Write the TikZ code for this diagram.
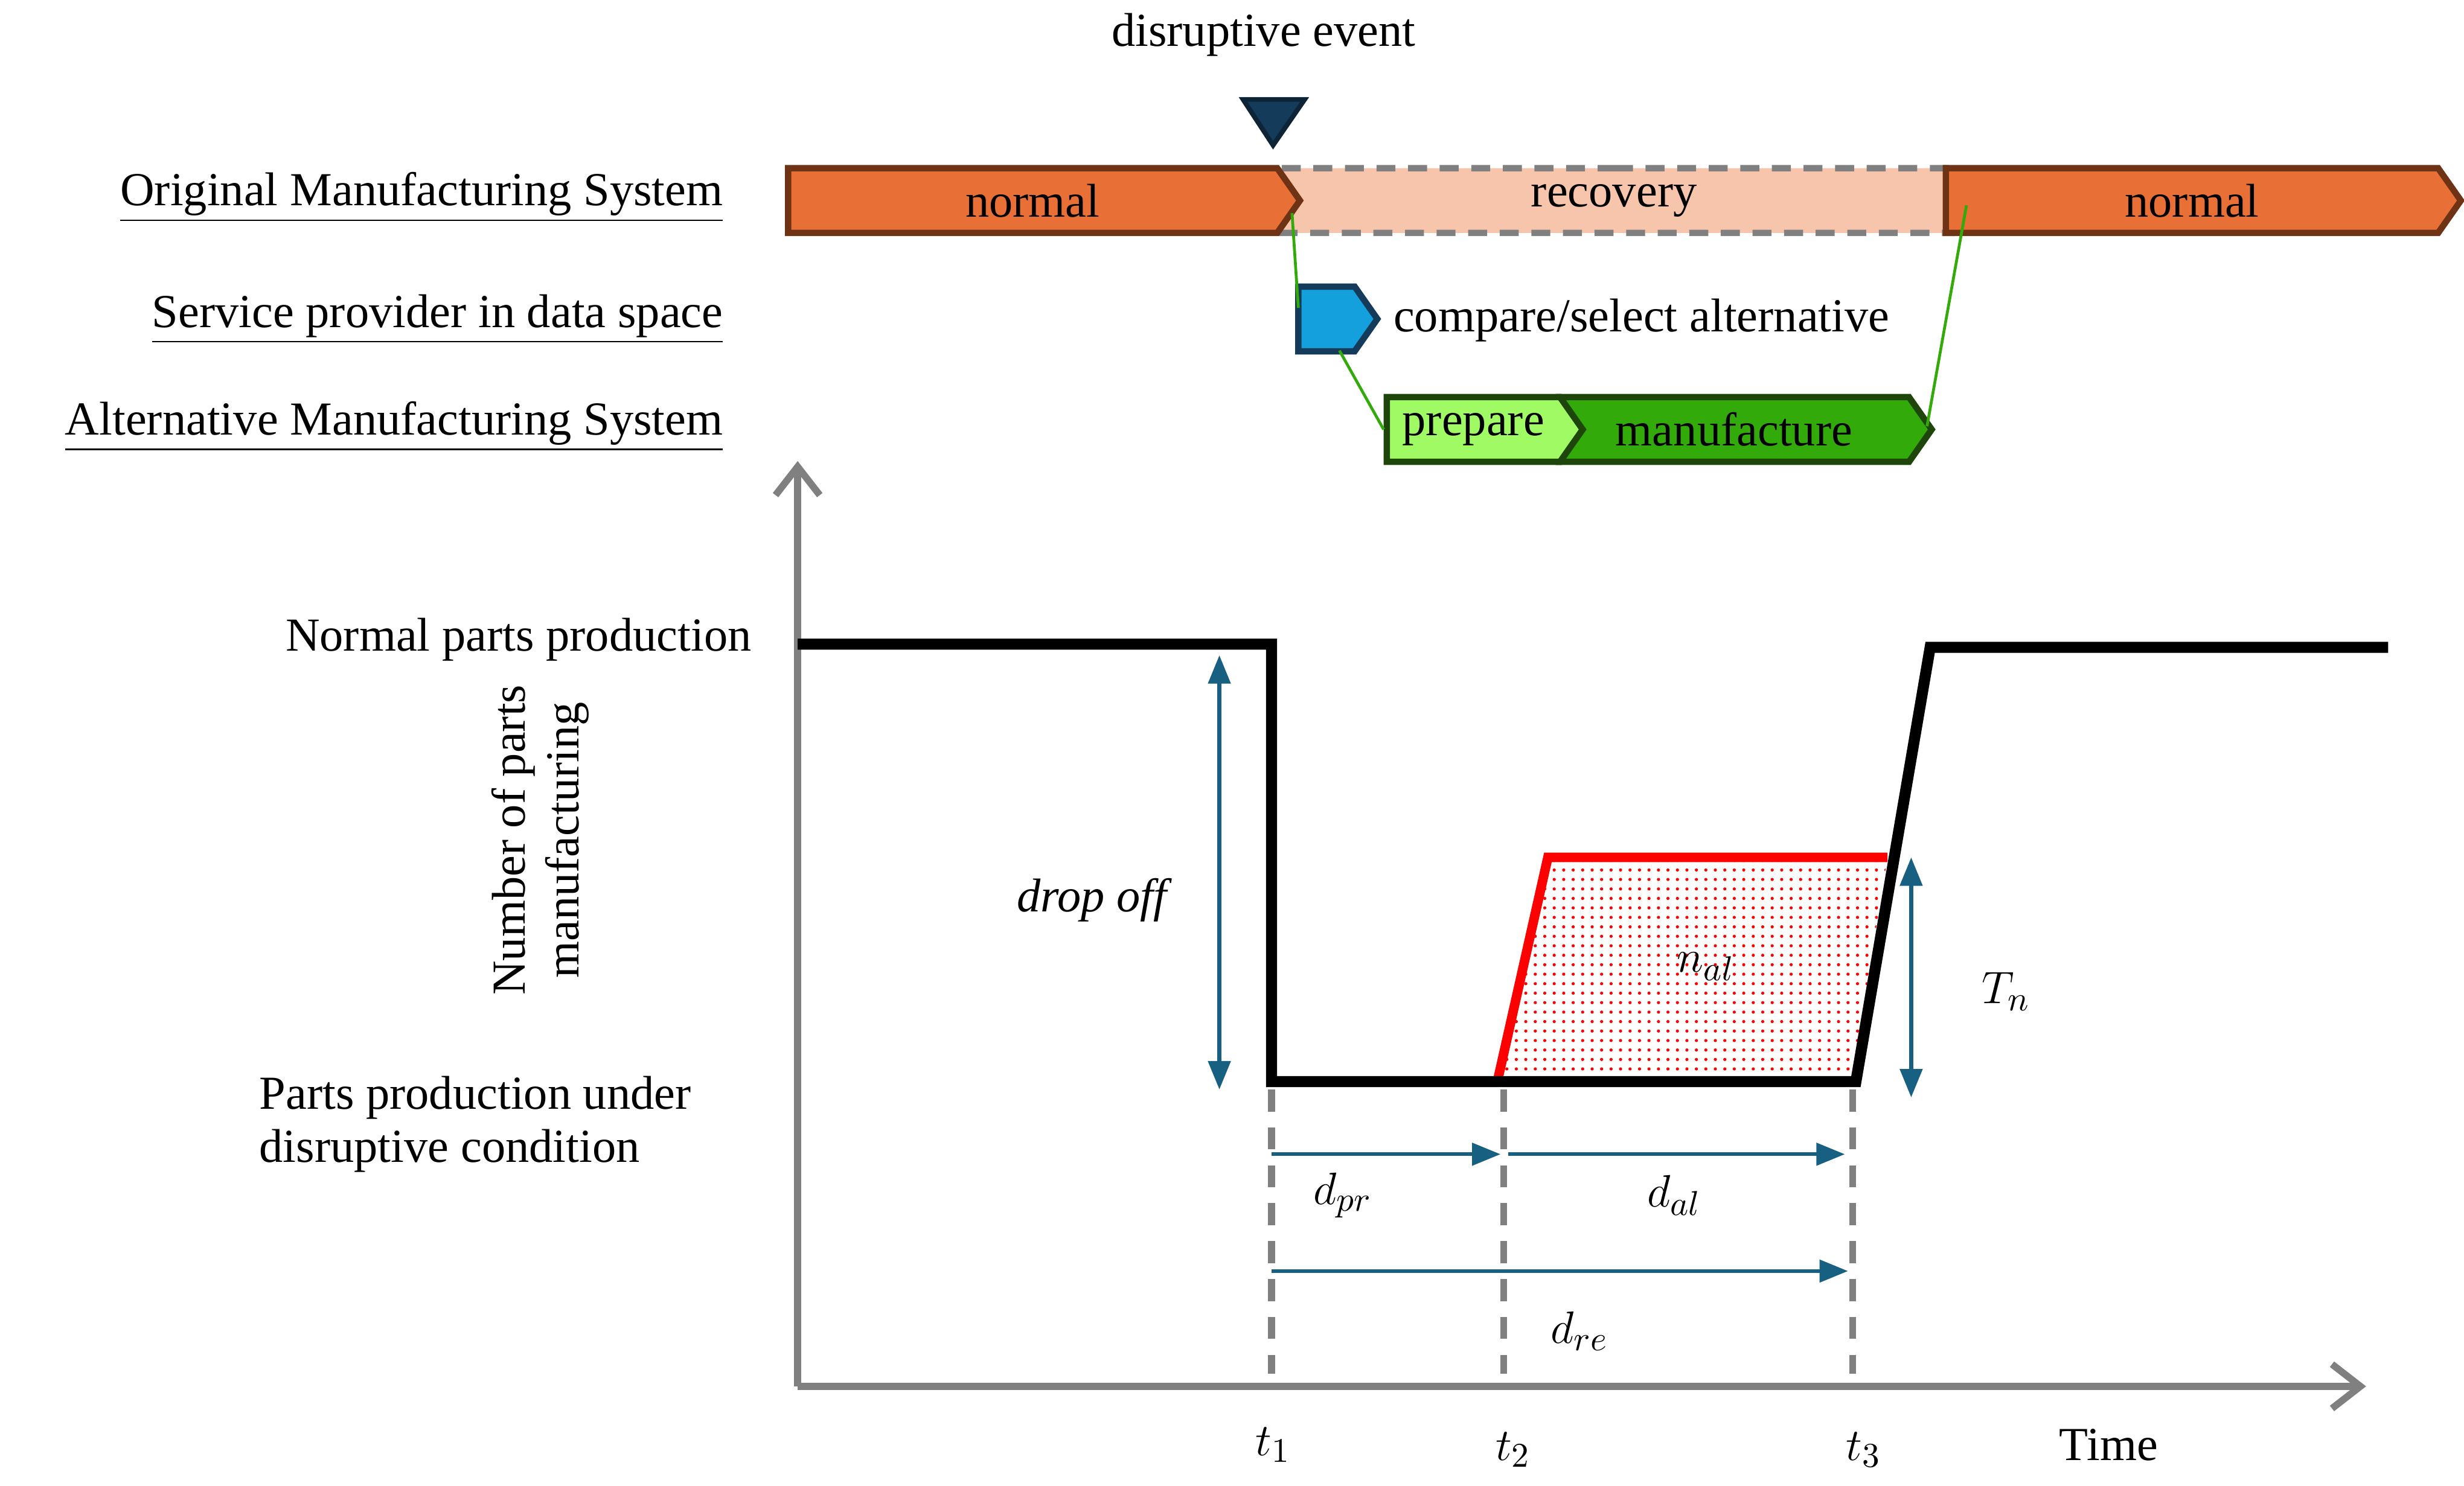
\documentclass[tikz,border=0pt]{standalone}
\usepackage{fontspec}
\setmainfont{Liberation Serif}
\usetikzlibrary{patterns,shapes.symbols,arrows.meta}
\definecolor{orng}{RGB}{232,112,54}
\definecolor{orngd}{RGB}{110,50,20}
\definecolor{pinkl}{RGB}{246,197,172}
\definecolor{bluea}{RGB}{24,96,130}
\definecolor{blues}{RGB}{20,160,220}
\definecolor{greenl}{RGB}{160,250,100}
\definecolor{greend}{RGB}{50,170,10}
\definecolor{greenx}{RGB}{30,70,10}
\definecolor{navy}{RGB}{20,60,90}
\tikzset{every picture/.style={line width=0.75pt},
  lbl/.style={font=\fontsize{15}{17}\selectfont,inner sep=0.75pt},
  bar/.style={signal,signal to=east,signal pointer angle=110,minimum height=20.5pt,inner sep=0pt,line width=2pt,font=\fontsize{15}{17}\selectfont},
  dim/.style={color=bluea,line width=1.2pt,-{Triangle[length=9pt,width=7pt]}},
  dimb/.style={color=bluea,line width=1.2pt,{Triangle[length=9pt,width=7pt]}-{Triangle[length=9pt,width=7pt]}},
  guide/.style={color=gray,line width=2.2pt,dash pattern={on 7pt off 5pt}},
  link/.style={color=greend,line width=0.9pt}}
\begin{document}
\begin{tikzpicture}[x=0.5pt,y=0.5pt,yscale=-1,xscale=1]
\useasboundingbox (0,0) rectangle (1560,941);
% top bars
\node[bar,fill=pinkl,draw=gray,dash pattern={on 6pt off 4pt},minimum width=222pt,anchor=west] (rec) at (805,127) {recovery};
\node[bar,fill=orng,draw=orngd,minimum width=162pt,anchor=west] (n1) at (497,127) {normal};
\node[bar,fill=orng,draw=orngd,minimum width=163pt,anchor=west] (n2) at (1230,127) {normal};
\node[bar,fill=blues,draw=navy,minimum width=25pt,anchor=west] (svc) at (820,202) {};
\node[bar,fill=greend,draw=greenx,minimum width=118pt,anchor=west] (man) at (985,272) {manufacture};
\node[bar,fill=greenl,draw=greenx,minimum width=62pt,anchor=west] (prep) at (876,272) {prepare};
\node[lbl,anchor=west] (cmp) at (880,203) {compare/select alternative};
\node[lbl] (dis) at (800,22) {disruptive event};
\draw[fill=navy,draw=navy!60!black,line width=1.5pt] (787,63) -- (826,63) -- (806,92) -- cycle;
\draw[link] (818,135) -- (822,195);
\draw[link] (848,222) -- (876,272);
\draw[link] (1220,270) -- (1245,130);
% row labels
\node[lbl,anchor=east] (l1) at (460,125) {\underline{Original Manufacturing System}};
\node[lbl,anchor=east] (l2) at (460,202) {\underline{Service provider in data space}};
\node[lbl,anchor=east] (l3) at (460,270) {\underline{Alternative Manufacturing System}};
% axes
\coordinate (o) at (505,878);
\coordinate (ytop) at (505,292);
\coordinate (xend) at (1498,878);
\draw[gray,line width=2.2pt,-{Straight Barb[length=9pt,width=14pt]}] (o) -- (ytop);
\draw[gray,line width=2.2pt,-{Straight Barb[length=9pt,width=14pt]}] (o) -- (xend);
% shaded area
\draw[pattern=dots,pattern color=red,draw=none] (948,685) -- (980,543) -- (1195,543) -- (1172,685) -- cycle;
\draw[red,line width=3pt] (948,685) -- (980,543) -- (1195,543);
% guides
\foreach \x in {805,952,1173} \draw[guide] (\x,690) -- (\x,870);
% production curve
\draw[line width=3.5pt,line join=miter] (505,408) -- (805,408) -- (805,685) -- (1175,685) -- (1222,410) -- (1512,410);
% dimensions
\coordinate (da) at (772,415); \coordinate (db) at (772,690);
\draw[dimb] (da) -- (db);
\coordinate (ta) at (1210,543); \coordinate (tb) at (1210,695);
\draw[dimb] (ta) -- (tb);
\draw[dim] (805,731) -- (950,731);
\draw[dim] (955,731) -- (1168,731);
\draw[dim] (805,805) -- (1170,805);
\node[lbl] (drop) at (693,570) {\textit{drop off}};
\node[lbl] (tn) at (1270,628) {$T_n$};
\node[lbl] (nal) at (1080,612) {$n_{al}$};
\node[lbl] (dpr) at (850,757) {$d_{pr}$};
\node[lbl] (dal) at (1060,757) {$d_{al}$};
\node[lbl] (dre) at (1000,843) {$d_{re}$};
\node[lbl] (t1) at (806,915) {$t_1$};
\node[lbl] (t2) at (958,918) {$t_2$};
\node[lbl] (t3) at (1180,918) {$t_3$};
\node[lbl] (time) at (1335,915) {Time};
\node[lbl,anchor=east] (npp) at (478,405) {Normal parts production};
\node[lbl,anchor=west,align=left] (dpp) at (162,712) {Parts production under\\disruptive condition};
\node[lbl,rotate=90,align=center] (ylab) at (342,532) {Number of parts\\manufacturing};
\end{tikzpicture}
\end{document}
